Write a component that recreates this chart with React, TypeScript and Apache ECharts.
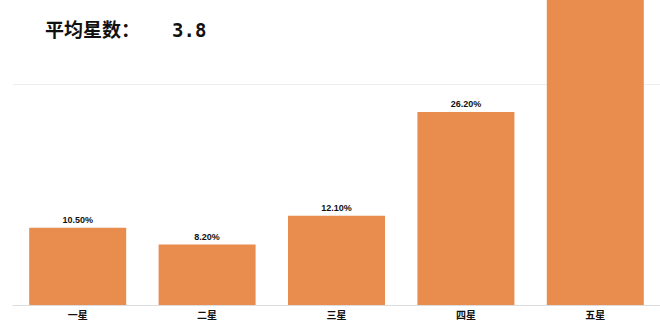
import React, { useEffect, useRef } from "react";
import * as echarts from "echarts";

const categories = ["一星", "二星", "三星", "四星", "五星"];
const percentages = [10.5, 8.2, 12.1, 26.2, 43.0];
const starValues = [1, 2, 3, 4, 5];
const titleText = "平均星数：";
const yMax = 41.4;

export default function App() {
  const ref = useRef<HTMLDivElement>(null);
  useEffect(() => {
    if (!ref.current) return;
    const chart = echarts.init(ref.current, null, { renderer: "svg" });
    const total = percentages.reduce((a, b) => a + b, 0);
    const avg = percentages.reduce((s, p, i) => s + p * starValues[i], 0) / total;
    chart.setOption({
      animation: false,
      backgroundColor: "#ffffff",
      grid: { left: 13, width: 654, top: 0, height: 305, containLabel: false },
      graphic: [
        {
          type: "text",
          left: 45,
          top: 19,
          style: {
            text: titleText,
            fontSize: 19,
            fontWeight: "bold",
            fill: "#111",
            fontFamily: "Noto Sans CJK SC",
          },
        },
        {
          type: "text",
          left: 172,
          top: 20,
          style: {
            text: avg.toFixed(1),
            fontSize: 19,
            fontWeight: "bold",
            fill: "#111",
            fontFamily: "DejaVu Sans Mono",
          },
        },
      ],
      xAxis: {
        type: "category",
        data: categories,
        axisLine: { show: true, lineStyle: { color: "#dddddd", width: 1 } },
        axisTick: { show: false },
        axisLabel: {
          color: "#111",
          fontSize: 10,
          fontWeight: "bold",
          margin: 4,
          fontFamily: "Noto Sans CJK SC",
        },
      },
      yAxis: {
        type: "value",
        min: 0,
        max: yMax,
        interval: 30,
        axisLine: { show: false },
        axisTick: { show: false },
        axisLabel: { show: false },
        splitLine: { show: true, showMaxLine: false, lineStyle: { color: "#eeeeee", width: 1 } },
      },
      series: [
        {
          type: "bar",
          data: percentages.map((v) => ({
            value: v,
            label: { show: v < yMax },
          })),
          barWidth: 97,
          clip: false,
          itemStyle: { color: "#E98D4E" },
          label: {
            show: true,
            position: "top",
            distance: 3,
            color: "#111",
            fontSize: 9,
            fontWeight: "bold",
            fontFamily: "Liberation Sans",
            formatter: (p: any) => Number(p.value).toFixed(2) + "%",
          },
        },
      ],
    });
    return () => chart.dispose();
  }, []);
  return (
    <div
      ref={ref}
      style={{ position: "fixed", left: 0, top: 0, width: 660, height: 322 }}
    />
  );
}
